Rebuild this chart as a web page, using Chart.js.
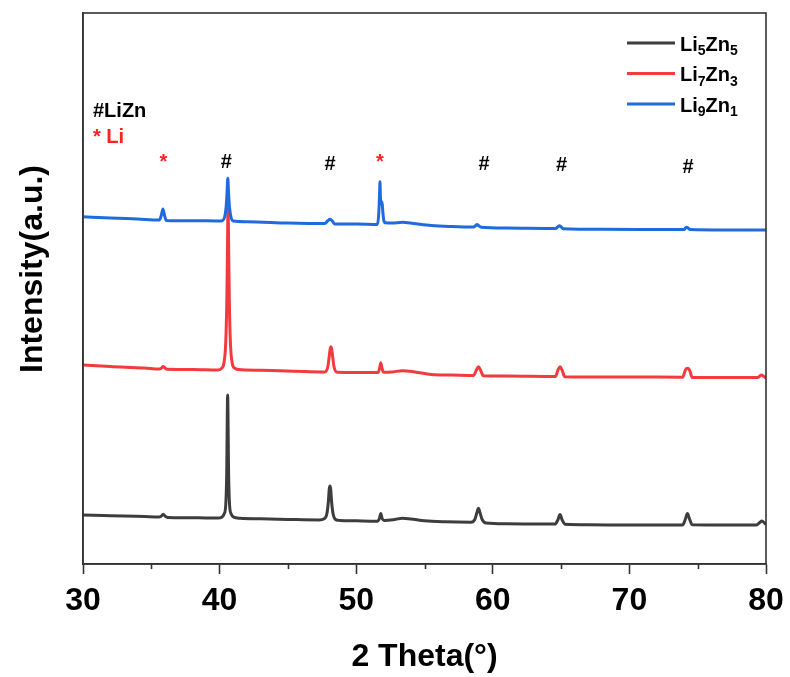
<!DOCTYPE html>
<html>
<head>
<meta charset="utf-8">
<title>XRD Li-Zn</title>
<script src="https://cdn.jsdelivr.net/npm/chart.js@4.4.1/dist/chart.umd.min.js"></script>
<style>
    html, body { margin: 0; padding: 0; background: #ffffff; }
    canvas { display: block; }
</style>
</head>
<body>
<canvas id="xrdChart" width="790" height="677"></canvas>
<script>
// 2-theta (deg) / intensity (counts)
const li5zn5 = [
    [30, 490], [31.5, 485], [33, 480], [34.5, 474], [35.55, 470], [35.72, 478], [35.87, 497], [36.02, 478],
    [36.2, 466], [37.5, 463], [39, 461], [39.9, 460], [40.15, 468], [40.33, 500], [40.45, 590], [40.52, 900],
    [40.59, 1690], [40.66, 900], [40.73, 590], [40.85, 500], [41.03, 468], [41.5, 458], [43, 452], [45, 446],
    [47.3, 441], [47.65, 452], [47.85, 500], [47.96, 620], [48.03, 750], [48.08, 780], [48.13, 750], [48.2, 620],
    [48.31, 500], [48.5, 444], [48.8, 436], [50, 432], [51.55, 428], [51.7, 455], [51.8, 505], [51.9, 455],
    [52.05, 436], [52.8, 445], [53.4, 458], [54.0, 450], [55, 432], [56.5, 422], [58.4, 418], [58.68, 445],
    [58.84, 515], [58.95, 557], [59.06, 515], [59.22, 445], [59.5, 410], [61, 402], [64.55, 399], [64.76, 440],
    [64.92, 495], [65.08, 440], [65.3, 397], [67, 392], [70, 390], [73.9, 391], [74.1, 450], [74.25, 505],
    [74.4, 450], [74.6, 392], [77, 390], [79.3, 390], [79.52, 412], [79.7, 430], [79.88, 412], [80, 395]
];
const li7zn3 = [
    [30, 490], [32, 475], [34.5, 460], [35.6, 450], [35.75, 460], [35.87, 475], [36.0, 460], [36.15, 447],
    [38, 445], [39.9, 440], [40.15, 458], [40.33, 520], [40.45, 720], [40.53, 1150], [40.58, 1700], [40.62, 2090],
    [40.66, 1700], [40.71, 1150], [40.79, 720], [40.91, 520], [41.1, 458], [41.4, 445], [43, 437], [45.5, 428],
    [47.7, 421], [47.92, 470], [48.02, 570], [48.1, 655], [48.15, 673], [48.2, 655], [48.28, 570], [48.38, 470],
    [48.6, 418], [50, 416], [51.6, 415], [51.7, 450], [51.8, 513], [51.9, 450], [52.02, 418], [52.6, 420],
    [53.4, 433], [54.3, 420], [55.5, 395], [57, 390], [58.6, 386], [58.8, 440], [58.95, 473], [59.1, 440],
    [59.3, 383], [61, 380], [64.6, 375], [64.77, 440], [64.92, 473], [65.07, 440], [65.27, 372], [67, 370],
    [70, 370], [73.9, 368], [74.1, 440], [74.25, 457], [74.4, 440], [74.6, 366], [77, 365], [79.4, 365],
    [79.65, 390], [79.85, 375], [80, 360]
];
const li9zn1 = [
    [30, 473], [32, 460], [34, 450], [35.6, 441], [35.73, 485], [35.85, 550], [35.97, 485], [36.1, 436],
    [38, 433], [40.0, 430], [40.2, 434], [40.37, 470], [40.47, 560], [40.54, 700], [40.6, 857], [40.66, 700],
    [40.73, 560], [40.83, 470], [41.0, 430], [42, 423], [45, 410], [47.7, 405], [47.92, 432], [48.08, 447],
    [48.24, 432], [48.42, 401], [50, 400], [51.55, 396], [51.65, 500], [51.71, 700], [51.74, 823], [51.78, 640],
    [51.83, 600], [51.89, 623], [51.95, 520], [52.03, 430], [52.15, 412], [52.6, 410], [53.4, 417], [54.2, 405],
    [55.5, 385], [57, 375], [58.6, 370], [58.75, 385], [58.85, 395], [58.95, 385], [59.15, 368], [61, 360],
    [64.6, 355], [64.78, 375], [64.88, 383], [64.98, 375], [65.15, 353], [68, 347], [74.0, 345], [74.12, 362],
    [74.2, 368], [74.28, 362], [74.45, 344], [77, 340], [80, 340]
];

// vertical stacking of the three patterns
const offsets = [0, 1500, 3000];
const seriesNames = [['Li', '5', 'Zn', '5'], ['Li', '7', 'Zn', '3'], ['Li', '9', 'Zn', '1']];
const seriesColors = ['#3d3d3d', '#f23a3f', '#1f6bde'];

// phase markers: # = LiZn, * = Li
const markerTheta = [35.88, 40.49, 48.08, 51.74, 59.36, 65.04, 74.29];
const markerSymbol = ['*', '#', '#', '*', '#', '#', '#'];
const markerLevel = [3960, 3960, 3940, 3960, 3940, 3930, 3910];

const xTicks = [30, 40, 50, 60, 70, 80];
const minorTicks = [35, 45, 55, 65, 75];

const AXIS_COLOR = '#333333';
const FONT = '"Liberation Sans", Arial, sans-serif';

function toPoints(rows, offset) {
    return rows.map(([x, y]) => ({ x: x, y: y + offset }));
}

// Frame, minor ticks, y title, phase labels and the subscript legend
const decorPlugin = {
    id: 'decor',
    afterDraw(chart) {
        const { ctx, chartArea: area, scales: { x, y } } = chart;
        ctx.save();

        ctx.strokeStyle = AXIS_COLOR;
        ctx.lineWidth = 1.6;
        ctx.strokeRect(area.left, area.top, area.right - area.left, area.bottom - area.top);

        ctx.beginPath();
        minorTicks.forEach(v => {
            const px = Math.round(x.getPixelForValue(v)) + 0.5;
            ctx.moveTo(px, area.bottom);
            ctx.lineTo(px, area.bottom + 5);
        });
        ctx.stroke();

        // y axis title
        ctx.save();
        ctx.translate(33, 269);
        ctx.rotate(-Math.PI / 2);
        ctx.fillStyle = '#000';
        ctx.font = 'bold 32px ' + FONT;
        ctx.textAlign = 'center';
        ctx.textBaseline = 'middle';
        ctx.fillText('Intensity(a.u.)', 0, 0);
        ctx.restore();

        // phase key
        ctx.textAlign = 'left';
        ctx.textBaseline = 'alphabetic';
        ctx.font = 'bold 20px ' + FONT;
        ctx.fillStyle = '#000';
        ctx.fillText('#LiZn', 93, 117);
        ctx.fillStyle = '#ff2020';
        ctx.fillText('* Li', 93, 143);

        // peak markers
        ctx.textAlign = 'center';
        ctx.font = 'bold 20px ' + FONT;
        markerTheta.forEach((t, i) => {
            ctx.fillStyle = markerSymbol[i] === '*' ? '#ff2020' : '#000';
            ctx.fillText(markerSymbol[i], x.getPixelForValue(t), y.getPixelForValue(markerLevel[i]));
        });

        // legend with subscripts
        ctx.textAlign = 'left';
        seriesNames.forEach((parts, i) => {
            const rowY = 43 + i * 30.5;
            ctx.strokeStyle = seriesColors[i];
            ctx.lineWidth = 3;
            ctx.beginPath();
            ctx.moveTo(627, rowY);
            ctx.lineTo(675, rowY);
            ctx.stroke();

            let tx = 680;
            ctx.fillStyle = '#000';
            parts.forEach((p, k) => {
                const sub = k % 2 === 1;
                ctx.font = (sub ? 'bold 14px ' : 'bold 20px ') + FONT;
                ctx.fillText(p, tx, rowY + (sub ? 12 : 7.5));
                tx += ctx.measureText(p).width;
            });
        });

        ctx.restore();
    }
};

const ctx = document.getElementById('xrdChart').getContext('2d');
new Chart(ctx, {
    type: 'line',
    data: {
        datasets: [li5zn5, li7zn3, li9zn1].map((rows, i) => ({
            label: seriesNames[i].join(''),
            data: toPoints(rows, offsets[i]),
            borderColor: seriesColors[i],
            borderWidth: 3,
            borderJoinStyle: 'round',
            pointRadius: 0,
            cubicInterpolationMode: 'monotone',
            fill: false,
            order: 3 - i
        }))
    },
    options: {
        responsive: false,
        animation: false,
        layout: { padding: { top: 13, right: 24, bottom: 0, left: 0 } },
        plugins: {
            legend: { display: false },
            tooltip: { enabled: false }
        },
        scales: {
            x: {
                type: 'linear',
                min: 30,
                max: 80,
                afterBuildTicks: scale => {
                    scale.ticks = xTicks.map(v => ({ value: v }));
                },
                ticks: {
                    color: '#000',
                    padding: 8,
                    font: { family: FONT, size: 32, weight: 'bold' }
                },
                grid: {
                    drawOnChartArea: false,
                    tickLength: 10,
                    tickWidth: 1.6,
                    tickColor: AXIS_COLOR
                },
                border: { color: AXIS_COLOR, width: 1.6 },
                title: {
                    display: true,
                    text: '2 Theta(°)',
                    color: '#000',
                    padding: { top: 0, bottom: 1 },
                    font: { family: FONT, size: 32, weight: 'bold' }
                },
                afterFit: scale => {
                    scale.height = 113;
                    // end labels fit inside the layout padding already
                    scale.paddingLeft = 0;
                    scale.paddingRight = 0;
                }
            },
            y: {
                min: 0,
                max: 5510,
                ticks: { display: false },
                grid: { display: false },
                border: { color: AXIS_COLOR, width: 1.6 },
                afterFit: scale => { scale.width = 83; }
            }
        }
    },
    plugins: [decorPlugin]
});
</script>
</body>
</html>
